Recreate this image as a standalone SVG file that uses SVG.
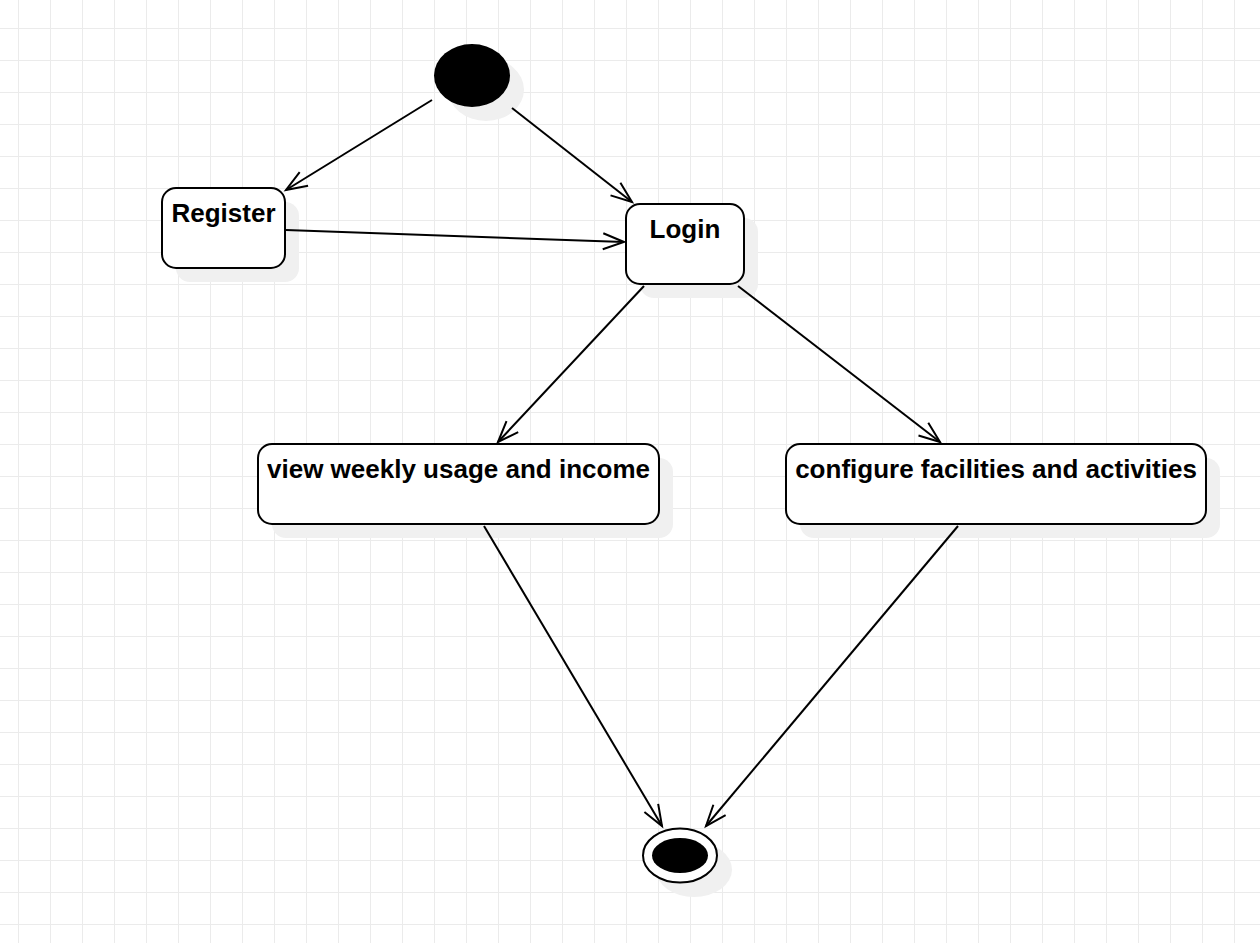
<svg xmlns="http://www.w3.org/2000/svg" width="1260" height="943" viewBox="0 0 1260 943">
<defs>
<pattern id="grid" x="18" y="28" width="32" height="32" patternUnits="userSpaceOnUse">
<path d="M0.5,0 V32 M0,0.5 H32" fill="none" stroke="#ebebeb" stroke-width="1"/>
</pattern>
<marker id="arr" viewBox="-24 -12 28 24" refX="0" refY="0" markerWidth="28" markerHeight="24" markerUnits="userSpaceOnUse" orient="auto" overflow="visible">
<path d="M-21,-8 L0,0 L-21,8" fill="none" stroke="#000" stroke-width="2"/>
</marker>
</defs>
<style>
.box{fill:#fff;stroke:#000;stroke-width:2}
.shadow{fill:#f0f0f0;stroke:none}
.lbl{font-family:"Liberation Sans",Arial,sans-serif;font-weight:bold;font-size:26px;fill:#000;text-anchor:middle}
.edge{fill:none;stroke:#000;stroke-width:2;marker-end:url(#arr)}
</style>
<rect width="1260" height="943" fill="#fff"/>
<rect width="1260" height="943" fill="url(#grid)"/>

<g id="start">
<ellipse class="shadow" cx="486" cy="89.5" rx="38" ry="31.5"/>
<ellipse cx="472" cy="75.5" rx="38" ry="31.5" fill="#000"/>
</g>

<g id="register">
<rect class="shadow" x="176" y="202" width="123" height="80" rx="14"/>
<rect class="box" x="162" y="188" width="123" height="80" rx="14"/>
<text class="lbl" x="223.5" y="222">Register</text>
</g>

<g id="login">
<rect class="shadow" x="640" y="218" width="118" height="80" rx="14"/>
<rect class="box" x="626" y="204" width="118" height="80" rx="14"/>
<text class="lbl" x="685" y="238">Login</text>
</g>

<g id="view">
<rect class="shadow" x="272" y="458" width="401" height="80" rx="14"/>
<rect class="box" x="258" y="444" width="401" height="80" rx="14"/>
<text class="lbl" x="458.5" y="478">view weekly usage and income</text>
</g>

<g id="configure">
<rect class="shadow" x="800" y="458" width="420" height="80" rx="14"/>
<rect class="box" x="786" y="444" width="420" height="80" rx="14"/>
<text class="lbl" x="996" y="478">configure facilities and activities</text>
</g>

<g id="end">
<ellipse class="shadow" cx="694" cy="869.5" rx="38" ry="27.5"/>
<ellipse class="box" cx="680" cy="855.5" rx="37" ry="27"/>
<ellipse cx="680" cy="855.5" rx="28" ry="17.5" fill="#000"/>
</g>

<g id="connectors">
<line class="edge" x1="432" y1="100" x2="286" y2="190"/>
<line class="edge" x1="512" y1="108" x2="632" y2="202"/>
<line class="edge" x1="286" y1="230" x2="624" y2="242"/>
<line class="edge" x1="644" y1="286" x2="498" y2="442"/>
<line class="edge" x1="738" y1="286" x2="940" y2="442"/>
<line class="edge" x1="484" y1="526" x2="662" y2="826"/>
<line class="edge" x1="958" y1="526" x2="706" y2="826"/>
</g>
</svg>
